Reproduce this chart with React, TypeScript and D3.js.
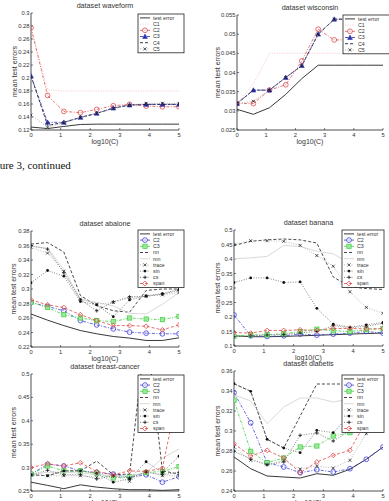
import React from "react";
import * as d3 from "d3";

// x positions (log10 of C) shared by every panel
const logC = [0, 0.56, 1.11, 1.67, 2.22, 2.78, 3.33, 3.89, 4.44, 5];
const xTicks = [0, 1, 2, 3, 4, 5];

// waveform
const wfYTicks = [0.12, 0.14, 0.16, 0.18, 0.2, 0.22, 0.24, 0.26, 0.28, 0.3];
const wfTest = [0.1245, 0.1222, 0.1255, 0.1285, 0.129, 0.129, 0.129, 0.129, 0.129, 0.129];
const wfC1 = [0.2775, 0.182, 0.18, 0.18, 0.18, 0.18, 0.18, 0.18, 0.18, 0.18];
const wfC2 = [0.2775, 0.1732, 0.1486, 0.1466, 0.1517, 0.1573, 0.1594, 0.1568, 0.1558, 0.1558];
const wfC3 = [0.2033, 0.1318, 0.1318, 0.1394, 0.1456, 0.1537, 0.1584, 0.1594, 0.1594, 0.1594];
const wfC4 = [0.2033, 0.127, 0.1318, 0.1394, 0.1456, 0.1537, 0.1584, 0.1594, 0.1594, 0.1594];
const wfC5 = [0.143, 0.1245, 0.131, 0.139, 0.1456, 0.153, 0.158, 0.161, 0.161, 0.161];

// wisconsin
const wiYTicks = [0.025, 0.03, 0.035, 0.04, 0.045, 0.05, 0.055];
const wiTest = [0.0304, 0.0291, 0.0308, 0.0343, 0.0384, 0.0419, 0.0419, 0.0419, 0.0419, 0.0419];
const wiC1 = [0.0319, 0.037, 0.045, 0.045, 0.045, 0.045, 0.045, 0.045, 0.045, 0.045];
const wiC2 = [0.0319, 0.0319, 0.0354, 0.0368, 0.043, 0.0513, 0.0485, 0.0485, 0.0485, 0.0485];
const wiC3 = [0.0319, 0.0354, 0.0354, 0.0387, 0.0418, 0.05, 0.0539, 0.0539, 0.0539, 0.0539];
const wiC4 = [0.0319, 0.0354, 0.0354, 0.0387, 0.0418, 0.05, 0.0539, 0.0539, 0.0539, 0.0539];
const wiC5 = [0.0319, 0.0325, 0.0354, 0.0387, 0.0418, 0.05, 0.0539, 0.0539, 0.0539, 0.0539];

// abalone
const abYTicks = [0.22, 0.24, 0.26, 0.28, 0.3, 0.32, 0.34, 0.36, 0.38];
const abTest = [0.2655, 0.257, 0.2495, 0.2427, 0.2382, 0.2345, 0.2323, 0.229, 0.229, 0.2327];
const abC2 = [0.2814, 0.2759, 0.27, 0.2564, 0.2505, 0.245, 0.2405, 0.2391, 0.2382, 0.2382];
const abC3 = [0.2814, 0.2745, 0.2645, 0.26, 0.2564, 0.255, 0.26, 0.2586, 0.2577, 0.2623];
const abNn = [0.362, 0.364, 0.351, 0.291, 0.277, 0.27, 0.268, 0.298, 0.3, 0.3];
const abMn = [0.3586, 0.3564, 0.3268, 0.286, 0.2814, 0.2768, 0.2664, 0.2655, 0.279, 0.295];
const abTrace = [0.3573, 0.3495, 0.3245, 0.286, 0.279, 0.2814, 0.2882, 0.29, 0.292, 0.295];
const abSin = [0.3086, 0.3255, 0.3177, 0.2827, 0.2782, 0.2618, 0.285, 0.2905, 0.2936, 0.2995];
const abCs = [0.36, 0.355, 0.3223, 0.285, 0.27, 0.2823, 0.2891, 0.29, 0.293, 0.298];
const abSpan = [0.285, 0.2782, 0.2745, 0.2645, 0.2564, 0.2495, 0.2495, 0.2486, 0.2436, 0.2505];

// banana
const baYTicks = [0.1, 0.15, 0.2, 0.25, 0.3, 0.35, 0.4, 0.45, 0.5];
const baTest = [0.1353, 0.132, 0.132, 0.133, 0.135, 0.137, 0.139, 0.141, 0.143, 0.1445];
const baC2 = [0.2072, 0.1353, 0.133, 0.1353, 0.141, 0.1376, 0.141, 0.1445, 0.15, 0.1445];
const baC3 = [0.133, 0.1388, 0.1388, 0.1422, 0.15, 0.158, 0.1525, 0.15, 0.156, 0.16];
const baNn = [0.4466, 0.461, 0.466, 0.469, 0.466, 0.455, 0.338, 0.304, 0.298, 0.295];
const baMn = [0.401, 0.404, 0.409, 0.447, 0.443, 0.427, 0.418, 0.384, 0.35, 0.315];
const baTrace = [0.45, 0.463, 0.463, 0.461, 0.447, 0.412, 0.375, 0.287, 0.233, 0.213];
const baSin = [0.319, 0.3348, 0.3348, 0.319, 0.321, 0.23, 0.175, 0.165, 0.173, 0.181];
const baCs = [0.132, 0.135, 0.138, 0.14, 0.145, 0.15, 0.17, 0.163, 0.168, 0.178];
const baSpan = [0.1467, 0.1445, 0.1536, 0.1536, 0.1559, 0.1536, 0.1604, 0.1604, 0.159, 0.16];

// breast-cancer
const bcYTicks = [0.25, 0.3, 0.35, 0.4, 0.45, 0.5];
const bcTest = [0.2688, 0.262, 0.2549, 0.2632, 0.2583, 0.2549, 0.2528, 0.2528, 0.2514, 0.2528];
const bcC2 = [0.2861, 0.307, 0.3035, 0.293, 0.2896, 0.2861, 0.2792, 0.2847, 0.2688, 0.2806];
const bcC3 = [0.2861, 0.3035, 0.293, 0.293, 0.2875, 0.2778, 0.2806, 0.2896, 0.2917, 0.3021];
const bcNn = [0.2847, 0.2826, 0.293, 0.293, 0.3139, 0.2847, 0.2861, 0.6, 0.293, 0.2861];
const bcMn = [0.285, 0.29, 0.29, 0.288, 0.285, 0.283, 0.282, 0.29, 0.32, 0.34];
const bcTrace = [0.2847, 0.2826, 0.2826, 0.2826, 0.2792, 0.2826, 0.2708, 0.2917, 0.2826, 0.2826];
const bcSin = [0.2847, 0.2826, 0.293, 0.293, 0.2875, 0.2688, 0.2757, 0.3125, 0.2896, 0.3243];
const bcCs = [0.2847, 0.2944, 0.2847, 0.2847, 0.2757, 0.282, 0.278, 0.29, 0.285, 0.29];
const bcSpan = [0.3, 0.3083, 0.3035, 0.3104, 0.2917, 0.2847, 0.293, 0.2917, 0.2986, 0.4714];

// diabetis
const diYTicks = [0.24, 0.26, 0.28, 0.3, 0.32, 0.34, 0.36];
const diTest = [0.274, 0.2623, 0.255, 0.254, 0.253, 0.2573, 0.2557, 0.2617, 0.2717, 0.284];
const diC2 = [0.3383, 0.3083, 0.2683, 0.264, 0.2583, 0.2613, 0.259, 0.2623, 0.2717, 0.284];
const diC3 = [0.3307, 0.2797, 0.2683, 0.273, 0.284, 0.285, 0.295, 0.2983, 0.31, 0.3197];
const diNn = [0.3473, 0.3397, 0.2917, 0.283, 0.315, 0.347, 0.347, 0.347, 0.347, 0.347];
const diMn = [0.336, 0.33, 0.3073, 0.324, 0.333, 0.333, 0.329, 0.332, 0.33, 0.33];
const diTrace = [0.284, 0.2707, 0.2663, 0.2707, 0.262, 0.265, 0.263, 0.2707, 0.2973, 0.3047];
const diSin = [0.3473, 0.3397, 0.2917, 0.283, 0.2783, 0.3007, 0.2983, 0.3163, 0.32, 0.3273];
const diCs = [0.2797, 0.272, 0.2663, 0.269, 0.2957, 0.298, 0.29, 0.3, 0.31, 0.32];
const diSpan = [0.2873, 0.275, 0.2807, 0.273, 0.2583, 0.269, 0.2757, 0.2807, 0.31, 0.32];

const FONT = "Liberation Sans, Arial, sans-serif";
const INK = "#333";

// line styles, matlab-ish
const ST = {
  test: { color: "#222", dash: null, w: 0.9, marker: null },
  C1: { color: "#f2b8b8", dash: "1,1.5", w: 0.8, marker: null },
  C2r: { color: "#e05050", dash: "3,1.5,1,1.5", w: 0.8, marker: "o" },
  C3b: { color: "#2e2ea8", dash: "3,1.5,1,1.5", w: 0.8, marker: "^" },
  C4: { color: "#22224a", dash: "3,2", w: 0.9, marker: null },
  C5: { color: "#999", dash: "1,1.5", w: 0.8, marker: "x" },
  C2: { color: "#4040d8", dash: "3,1.5,1,1.5", w: 0.8, marker: "o" },
  C3: { color: "#40d040", dash: "3,1.5,1,1.5", w: 0.8, marker: "s" },
  nn: { color: "#333", dash: "3,2", w: 0.9, marker: null },
  mn: { color: "#cfcfcf", dash: null, w: 0.8, marker: null },
  trace: { color: "#aaa", dash: "1,1.5", w: 0.8, marker: "x" },
  sin: { color: "#666", dash: "1,1.5", w: 0.8, marker: "*" },
  cs: { color: "#666", dash: "1,1.5", w: 0.8, marker: "+" },
  span: { color: "#e04848", dash: "3,2", w: 0.8, marker: "d" },
};

function Marker({ type, x, y, color }) {
  const r = 2.4;
  if (type === "o")
    return <circle cx={x} cy={y} r={r} fill="none" stroke={color} strokeWidth={0.8} />;
  if (type === "^")
    return (
      <path d={`M${x},${y - r}L${x + r},${y + r * 0.8}L${x - r},${y + r * 0.8}Z`} fill={color} stroke={color} strokeWidth={0.6} />
    );
  if (type === "s")
    return <rect x={x - r * 0.9} y={y - r * 0.9} width={r * 1.8} height={r * 1.8} fill="#9be89b" stroke={color} strokeWidth={0.7} />;
  if (type === "d")
    return <path d={`M${x},${y - r}L${x + r},${y}L${x},${y + r}L${x - r},${y}Z`} fill="none" stroke={color} strokeWidth={0.8} />;
  if (type === "x")
    return (
      <path d={`M${x - 1.5},${y - 1.5}L${x + 1.5},${y + 1.5}M${x - 1.5},${y + 1.5}L${x + 1.5},${y - 1.5}`} stroke="#111" strokeWidth={0.7} />
    );
  if (type === "+")
    return <path d={`M${x - 1.8},${y}L${x + 1.8},${y}M${x},${y - 1.8}L${x},${y + 1.8}`} stroke="#111" strokeWidth={0.8} />;
  if (type === "*") return <circle cx={x} cy={y} r={1.4} fill="#111" />;
  return null;
}

function Panel({ id, title, left, right, top, bottom, yTicks, series, legend, yLabelX }) {
  const x = d3.scaleLinear().domain([0, 5]).range([left, right]);
  const y = d3.scaleLinear().domain([yTicks[0], yTicks[yTicks.length - 1]]).range([bottom, top]);
  const line = d3
    .line()
    .x((d, i) => x(logC[i]))
    .y((d) => y(d));
  const fmt = d3.format("~g");
  const clipId = `clip-${id}`;
  const rowH = 6.2;
  const legH = series.length * rowH + 1.6;
  return (
    <g>
      <defs>
        <clipPath id={clipId}>
          <rect x={left} y={top} width={right - left} height={bottom - top} />
        </clipPath>
      </defs>
      <text x={(left + right) / 2} y={top - 5} textAnchor="middle" fontSize={7.2} fontFamily={FONT} fill={INK}>
        {title}
      </text>
      {/* axes */}
      <line x1={left} x2={left} y1={top} y2={bottom} stroke="#222" strokeWidth={0.8} />
      <line x1={left} x2={right} y1={bottom} y2={bottom} stroke="#222" strokeWidth={0.8} />
      {yTicks.map((t) => (
        <g key={t}>
          <line x1={left} x2={left + 2} y1={y(t)} y2={y(t)} stroke="#222" strokeWidth={0.6} />
          <text x={left - 1.5} y={y(t) + 2} textAnchor="end" fontSize={5.8} fontFamily={FONT} fill={INK}>
            {fmt(t)}
          </text>
        </g>
      ))}
      {xTicks.map((t) => (
        <g key={t}>
          <line x1={x(t)} x2={x(t)} y1={bottom} y2={bottom - 2} stroke="#222" strokeWidth={0.6} />
          <text x={x(t)} y={bottom + 6.8} textAnchor="middle" fontSize={5.8} fontFamily={FONT} fill={INK}>
            {t}
          </text>
        </g>
      ))}
      <text x={(left + right) / 2} y={bottom + 13.5} textAnchor="middle" fontSize={7} fontFamily={FONT} fill={INK}>
        log10(C)
      </text>
      <text
        transform={`translate(${yLabelX},${(top + bottom) / 2}) rotate(-90)`}
        textAnchor="middle"
        dy="0.35em"
        fontSize={7}
        fontFamily={FONT}
        fill={INK}
      >
        mean test errors
      </text>
      {/* series */}
      <g clipPath={`url(#${clipId})`}>
        {series.map((s) => (
          <g key={s.name}>
            <path d={line(s.values)} fill="none" stroke={s.st.color} strokeWidth={s.st.w} strokeDasharray={s.st.dash || undefined} />
            {s.st.marker &&
              s.values.map((v, i) => <Marker key={i} type={s.st.marker} x={x(logC[i])} y={y(v)} color={s.st.color} />)}
          </g>
        ))}
      </g>
      {/* legend */}
      <g>
        <rect x={legend.x} y={legend.y} width={legend.w} height={legH} fill="#fff" stroke="#222" strokeWidth={0.8} />
        {series.map((s, i) => {
          const cy = legend.y + 3.9 + i * rowH;
          return (
            <g key={s.name}>
              <line x1={legend.x + 2} x2={legend.x + 12} y1={cy} y2={cy} stroke={s.st.color} strokeWidth={s.st.w} strokeDasharray={s.st.dash || undefined} />
              {s.st.marker && <Marker type={s.st.marker} x={legend.x + 7} y={cy} color={s.st.color} />}
              <text x={legend.x + 15} y={cy + 1.9} fontSize={5.3} fontFamily={FONT} fill={INK}>
                {s.name}
              </text>
            </g>
          );
        })}
      </g>
    </g>
  );
}

const bottomSet = (t, c2, c3, nn, mn, tr, sn, cs, sp) => [
  { name: "test error", values: t, st: ST.test },
  { name: "C2", values: c2, st: ST.C2 },
  { name: "C3", values: c3, st: ST.C3 },
  { name: "nn", values: nn, st: ST.nn },
  { name: "mn", values: mn, st: ST.mn },
  { name: "trace", values: tr, st: ST.trace },
  { name: "sin", values: sn, st: ST.sin },
  { name: "cs", values: cs, st: ST.cs },
  { name: "span", values: sp, st: ST.span },
];

const topSet = (t, c1, c2, c3, c4, c5) => [
  { name: "test error", values: t, st: ST.test },
  { name: "C1", values: c1, st: ST.C1 },
  { name: "C2", values: c2, st: ST.C2r },
  { name: "C3", values: c3, st: ST.C3b },
  { name: "C4", values: c4, st: ST.C4 },
  { name: "C5", values: c5, st: ST.C5 },
];

export default function App() {
  return (
    <svg width={389} height={501} style={{ position: "absolute", left: 0, top: 0, background: "#fff" }}>
      <rect width={389} height={501} fill="#fff" />
      <Panel
        id="wf"
        title="dataset  waveform"
        left={31}
        right={179}
        top={13}
        bottom={130}
        yTicks={wfYTicks}
        series={topSet(wfTest, wfC1, wfC2, wfC3, wfC4, wfC5)}
        legend={{ x: 138, y: 14, w: 46 }}
        yLabelX={15}
      />
      <Panel
        id="wi"
        title="dataset  wisconsin"
        left={237}
        right={383}
        top={15}
        bottom={130}
        yTicks={wiYTicks}
        series={topSet(wiTest, wiC1, wiC2, wiC3, wiC4, wiC5)}
        legend={{ x: 343, y: 15, w: 48 }}
        yLabelX={218}
      />
      {/* page text, cut at the left edge as in the scan */}
      <text x={-15} y={169} fontSize={11} fontFamily="Liberation Serif, Times New Roman, serif" fill="#111">
        Figure 3, continued
      </text>
      <Panel
        id="ab"
        title="dataset  abalone"
        left={31}
        right={179}
        top={231}
        bottom={347}
        yTicks={abYTicks}
        series={bottomSet(abTest, abC2, abC3, abNn, abMn, abTrace, abSin, abCs, abSpan)}
        legend={{ x: 138, y: 230, w: 46 }}
        yLabelX={14}
      />
      <Panel
        id="ba"
        title="dataset  banana"
        left={234}
        right={383}
        top={230}
        bottom={346}
        yTicks={baYTicks}
        series={bottomSet(baTest, baC2, baC3, baNn, baMn, baTrace, baSin, baCs, baSpan)}
        legend={{ x: 342, y: 230, w: 42 }}
        yLabelX={218}
      />
      <Panel
        id="bc"
        title="dataset  breast-cancer"
        left={31}
        right={179}
        top={374}
        bottom={491}
        yTicks={bcYTicks}
        series={bottomSet(bcTest, bcC2, bcC3, bcNn, bcMn, bcTrace, bcSin, bcCs, bcSpan)}
        legend={{ x: 138, y: 375, w: 46 }}
        yLabelX={14}
      />
      <Panel
        id="di"
        title="dataset  diabetis"
        left={234}
        right={383}
        top={371}
        bottom={491}
        yTicks={diYTicks}
        series={bottomSet(diTest, diC2, diC3, diNn, diMn, diTrace, diSin, diCs, diSpan)}
        legend={{ x: 342, y: 375, w: 42 }}
        yLabelX={218}
      />
    </svg>
  );
}
